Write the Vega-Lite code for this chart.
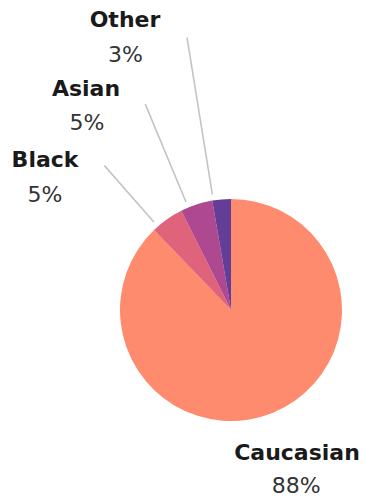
{
  "$schema": "https://vega.github.io/schema/vega-lite/v6.json",
  "autosize": "none",
  "width": 222,
  "height": 222,
  "padding": {"left": 120, "top": 199, "right": 23, "bottom": 76},
  "background": "white",
  "config": {"view": {"stroke": null}},
  "data": {
    "values": [
      {"race": "Caucasian", "share": 0.878},
      {"race": "Black", "share": 0.048},
      {"race": "Asian", "share": 0.047},
      {"race": "Other", "share": 0.027}
    ]
  },
  "layer": [
    {
      "mark": {"type": "arc", "radius": 111, "stroke": null},
      "encoding": {
        "theta": {"field": "share", "type": "quantitative", "stack": true, "scale": {"domain": [0, 1]}},
        "order": {"field": "share", "type": "quantitative", "sort": "descending"},
        "color": {
          "field": "race",
          "type": "nominal",
          "scale": {"domain": ["Caucasian", "Black", "Asian", "Other"], "range": ["#fe8b6e", "#df637a", "#ae4890", "#633d96"]},
          "legend": null
        }
      }
    },
    {
      "transform": [
        {"window": [{"op": "sum", "field": "share", "as": "cum"}], "sort": [{"field": "share", "order": "descending"}]},
        {"filter": "datum.race != 'Caucasian'"}
      ],
      "mark": {
        "type": "arc", "fill": null, "fillOpacity": 0, "stroke": "#c4c4c4", "strokeWidth": 1.6,
        "radius": {"expr": "datum.race == 'Other' ? 276 : datum.race == 'Asian' ? 223 : 192"},
        "radius2": 117,
        "thetaOffset": {"expr": "datum.race == 'Other' ? -0.16 : datum.race == 'Asian' ? -0.225 : -0.255"},
        "theta2Offset": {"expr": "datum.race == 'Other' ? -0.16 : datum.race == 'Asian' ? -0.225 : -0.255"}
      },
      "encoding": {
        "theta": {"field": "cum", "type": "quantitative", "stack": null},
        "theta2": {"field": "cum"}
      }
    },
    {
      "mark": {
        "type": "text",
        "font": "DejaVu Sans",
        "fontWeight": "bold",
        "fontSize": 22,
        "color": "#1a1a1a",
        "align": "center",
        "baseline": "middle",
        "radius": {"expr": "datum.race == 'Caucasian' ? 157.5 : datum.race == 'Black' ? 238.9 : datum.race == 'Asian' ? 264.3 : 308.8"},
        "thetaOffset": {"expr": "datum.race == 'Caucasian' ? -0.0492 : datum.race == 'Black' ? -0.2765 : datum.race == 'Asian' ? -0.2634 : -0.2656"}
      },
      "encoding": {
        "theta": {"field": "share", "type": "quantitative", "stack": true},
        "order": {"field": "share", "type": "quantitative", "sort": "descending"},
        "detail": {"field": "race"},
        "text": {"field": "race", "type": "nominal"}
      }
    },
    {
      "mark": {
        "type": "text",
        "font": "DejaVu Sans",
        "fontSize": 22,
        "color": "#333333",
        "align": "center",
        "baseline": "middle",
        "radius": {"expr": "datum.race == 'Caucasian' ? 188 : datum.race == 'Black' ? 218.7 : datum.race == 'Asian' ? 236.0 : 276.0"},
        "thetaOffset": {"expr": "datum.race == 'Caucasian' ? 0.0284 : datum.race == 'Black' ? -0.4013 : datum.race == 'Asian' ? -0.3389 : -0.3075"}
      },
      "encoding": {
        "theta": {"field": "share", "type": "quantitative", "stack": true},
        "order": {"field": "share", "type": "quantitative", "sort": "descending"},
        "detail": {"field": "race"},
        "text": {"field": "share", "type": "quantitative", "format": ".0%"}
      }
    }
  ]
}
